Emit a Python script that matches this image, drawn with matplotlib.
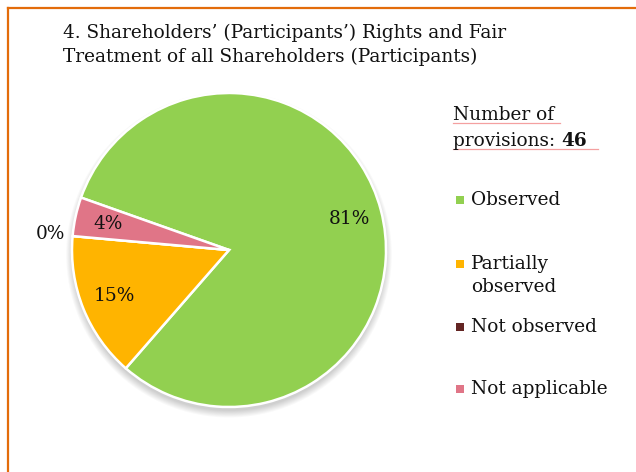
import matplotlib.pyplot as plt
from matplotlib.patches import Circle, Rectangle
from matplotlib.lines import Line2D

# Data
categories = ["Observed", "Partially\nobserved", "Not observed", "Not applicable"]
shares = [81, 15, 0, 4]
colors = ["#92D050", "#FFB400", "#632523", "#E07587"]
title = "4. Shareholders\u2019 (Participants\u2019) Rights and Fair\nTreatment of all Shareholders (Participants)"
total_provisions = 46

plt.rcParams['font.family'] = ['DejaVu Serif']
FS = 13.3

W, H = 636, 472
fig = plt.figure(figsize=(W / 100, H / 100), dpi=100)

# orange frame (left and top edges visible)
fig.lines.append(Line2D([8 / W, 8 / W], [0, 1 - 8 / H], transform=fig.transFigure, color="#E36C0A", lw=1.6))
fig.lines.append(Line2D([8 / W, 1], [1 - 8 / H, 1 - 8 / H], transform=fig.transFigure, color="#E36C0A", lw=1.6))

fig.text(63 / W, 1 - 24 / H, title, fontsize=FS, va="top", ha="left", color="#111111", linespacing=1.4)

# pie axes
cx, cy, r = 229, 250, 157
ax = fig.add_axes([(cx - r) / W, (H - cy - r) / H, 2 * r / W, 2 * r / H])

# soft shadow
for k in range(8):
    ax.add_patch(Circle((0, -0.03), 0.995 + 0.006 * k, color="black", alpha=0.022, zorder=0, lw=0,
                        clip_on=False))

wedges, texts, autotexts = ax.pie(shares, colors=colors, startangle=160.5, counterclock=False,
                                  autopct="%1.0f%%", pctdistance=0.79,
                                  wedgeprops=dict(edgecolor="white", linewidth=1.8),
                                  textprops=dict(fontsize=FS, color="#111111"))
for t, v in zip(autotexts, shares):
    if v == 0:
        x, y = t.get_position()
        t.set_position((x / 0.79 * 1.14, y / 0.79 * 1.14))
ax.set_xlim(-1, 1)
ax.set_ylim(-1, 1)
ax.set_aspect("equal")

# legend header
fig.text(453 / W, 1 - 115 / H, "Number of", fontsize=FS, va="center", ha="left", color="#111111")
t_prov = fig.text(453 / W, 1 - 141 / H, "provisions: ", fontsize=FS, va="center", ha="left", color="#111111")
renderer = fig.canvas.get_renderer()
bb = t_prov.get_window_extent(renderer)
fig.text(bb.x1 / W, 1 - 141 / H, str(total_provisions), fontsize=FS, va="center", ha="left",
         color="#111111", fontweight="bold")
for y0, x1 in [(123, 560), (149, 598)]:
    fig.lines.append(Line2D([453 / W, x1 / W], [1 - y0 / H, 1 - y0 / H], transform=fig.transFigure,
                            color="#F4A0A0", lw=0.9))

# legend entries
ys = [200, 264, 327, 389]
for cat, col, y in zip(categories, colors, ys):
    fig.patches.append(Rectangle((456 / W, 1 - (y + 4) / H), 8 / W, 8 / H, transform=fig.transFigure,
                                 facecolor=col, edgecolor="none"))
    fig.text(471 / W, 1 - (y - 9) / H, cat, fontsize=FS, va="top", ha="left", color="#111111",
             linespacing=1.35)

fig.savefig("out.png", dpi=100)
